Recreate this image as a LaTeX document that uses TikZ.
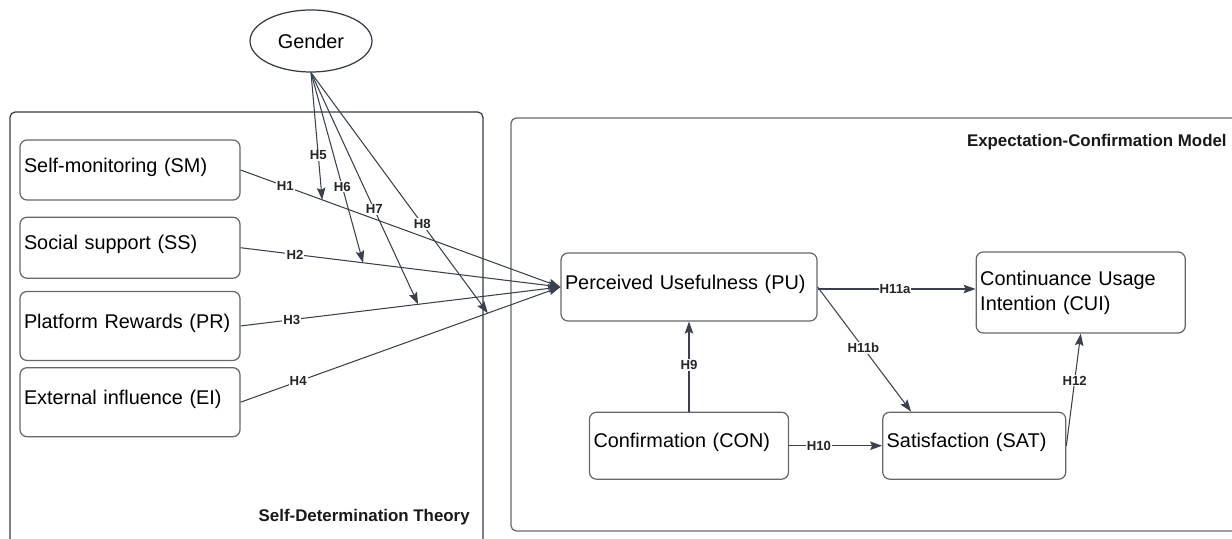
\documentclass[tikz,border=0pt]{standalone}
\usepackage{fontspec}
\setmainfont{Liberation Sans}
\usetikzlibrary{arrows.meta,positioning,shapes.geometric}
\definecolor{ecline}{RGB}{58,65,77}
\definecolor{ecgray}{RGB}{100,103,108}
\definecolor{ecdark}{RGB}{52,58,70}
\tikzset{
  ecbox/.style={draw=ecgray, line width=0.7pt, rounded corners=4pt, align=left, inner xsep=0.08cm, inner ysep=2pt, text depth=0.2cm, font=\fontsize{11.3}{14.2}\selectfont},
  ecoval/.style={draw=ecdark, line width=0.7pt, ellipse, minimum width=2.44cm, minimum height=1.24cm, inner sep=0pt, font=\fontsize{11.3}{14.2}\selectfont},
  ecarr/.style={-{Stealth[length=0.24cm, width=0.17cm, inset=0.04cm]}, line width=0.6pt, draw=ecline},
  eclab/.style={font=\bfseries\fontsize{7.5}{9}\selectfont, fill=white, inner sep=0.6pt, text=black!85},
  ectitle/.style={font=\bfseries\fontsize{9.6}{11}\selectfont, inner sep=0pt, text=black!90}
}

\begin{document}
\begin{tikzpicture}
  \useasboundingbox (0,0) rectangle (24.64,-10.78);
  \draw[ecdark, line width=0.7pt, rounded corners=3pt] (0.2,-11.5) |- (9.66,-2.24) -- (9.66,-11.5);
  \draw[ecgray, line width=0.7pt, rounded corners=3pt] (25.5,-2.36) -| (10.22,-10.62) -- (25.5,-10.62);
  \node[ectitle, anchor=east] (sdt) at (9.4,-10.34) {Self-Determination Theory};
  \node[ectitle, anchor=east] (ecm) at (24.54,-2.84) {Expectation-Confirmation Model};

  \node[ecoval] (gender) at (6.22,-0.82) {Gender};

  \node[ecbox, text width=4.24cm, minimum height=1.2cm] (sm) at (2.6,-3.4) {Self-monitoring (SM)};
  \node[ecbox, text width=4.24cm, minimum height=1.22cm, below=0.32cm of sm] (ss) {Social support (SS)};
  \node[ecbox, text width=4.24cm, minimum height=1.38cm, below=0.24cm of ss] (pr) {Platform Rewards (PR)};
  \node[ecbox, text width=4.24cm, minimum height=1.38cm, below=0.12cm of pr] (ei) {External influence (EI)};

  \node[ecbox, text width=4.96cm, minimum height=1.36cm] (pu) at (13.78,-5.74) {Perceived Usefulness (PU)};
  \node[ecbox, text width=3.82cm, minimum height=1.34cm, below=1.8cm of pu] (con) {Confirmation (CON)};
  \node[ecbox, text width=3.5cm, minimum height=1.34cm, right=1.86cm of con] (sat) {Satisfaction (SAT)};
  \node[ecbox, text depth=, text width=4.02cm, minimum height=1.62cm, right=3.16cm of pu, yshift=-0.11cm] (cui) {Continuance Usage\\Intention (CUI)};

  \draw[ecarr] (sm.east) -- node[eclab, pos=0.14] {H1} coordinate[pos=0.255] (m1) (pu.west);
  \draw[ecarr] (ss.east) -- node[eclab, pos=0.17] {H2} coordinate[pos=0.383] (m2) (pu.west);
  \draw[ecarr] (pr.east) -- node[eclab, pos=0.16] {H3} coordinate[pos=0.555] (m3) (pu.west);
  \draw[ecarr] (ei.east) -- node[eclab, pos=0.18] {H4} coordinate[pos=0.773] (m4) (pu.west);

  \draw[ecarr] (gender.south) -- node[eclab, pos=0.65] {H5} (m1);
  \draw[ecarr] (gender.south) -- node[eclab, pos=0.60] {H6} (m2);
  \draw[ecarr] (gender.south) -- node[eclab, pos=0.59] {H7} (m3);
  \draw[ecarr] (gender.south) -- node[eclab, pos=0.63] {H8} (m4);

  \draw[ecarr] (con.north) -- node[eclab, pos=0.52] {H9} (pu.south);
  \draw[ecarr] (con.east) -- node[eclab, pos=0.32] {H10} (sat.west);
  \draw[ecarr] ([yshift=-0.04cm]pu.east) -- node[eclab, pos=0.49] {H11a} ([yshift=-0.04cm]pu.east -| cui.west);
  \draw[ecarr] (pu.east) -- node[eclab, pos=0.49] {H11b} ([xshift=0.58cm]sat.north west);
  \draw[ecarr] (sat.east) -- node[eclab, pos=0.58] {H12} (cui.south);
\end{tikzpicture}
\end{document}
